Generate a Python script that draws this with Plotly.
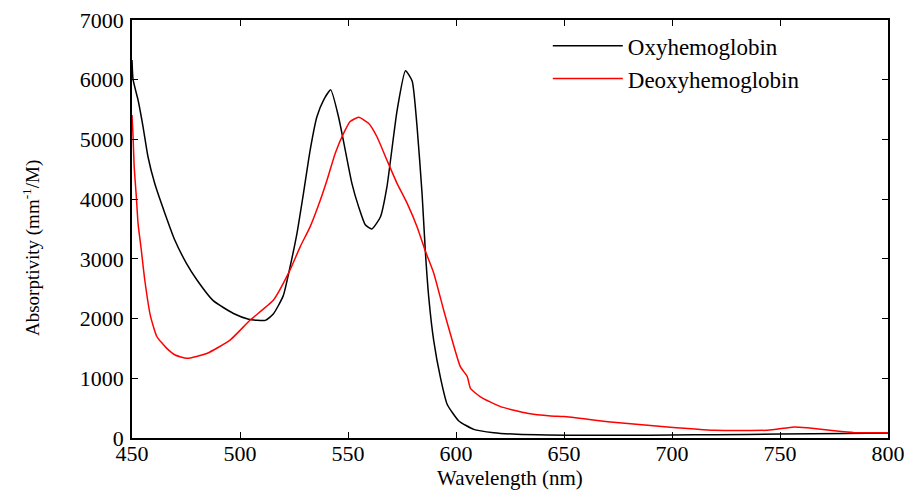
import plotly.graph_objects as go

# Oxyhemoglobin
oxy_wl = [450, 450.5, 452.8, 455.1, 457.4, 460.5, 465.2, 469.8, 475.2, 480, 487.6, 497, 504, 511.7, 515.4,
          520, 523.2, 526.4, 529.4, 532.5, 535.6, 538.7, 542, 545.6, 548.7, 551.8, 554.9, 558, 561,
          565, 568, 572.7, 576.6, 579.7, 582, 584.3, 585.8, 587.4, 589.7, 592.8, 595.9, 601.3, 608.2,
          617.5, 628.3, 642.3, 660, 680, 700, 720, 750, 780, 800]
oxy_val = [6330, 6000, 5660, 5215, 4710, 4265, 3765, 3315, 2925, 2650, 2300, 2085, 1990, 1970, 2075,
           2380, 2870, 3430, 4100, 4825, 5380, 5660, 5830, 5380, 4825, 4265, 3875, 3570, 3500,
           3700, 4200, 5480, 6150, 5980, 5200, 4085, 3130, 2350, 1625, 1010, 565, 285, 145,
           89, 62, 50, 45, 45, 50, 55, 65, 75, 85]

# Deoxyhemoglobin
deoxy_wl = [450, 450.5, 451, 452, 452.8, 454.3, 455.9, 458.5, 461.5, 466, 470, 475.4, 484.6, 495.4, 504.7,
            515.5, 522.8, 527.9, 532.5, 537.2, 540.3, 544.1, 548, 551, 554.9, 559.5, 563.4, 568, 572.7,
            577.4, 582, 585.8, 589.7, 594.3, 598.2, 602, 605.2, 606.7, 611.3, 620.6, 633, 643.8, 650,
            671.6, 697.9, 719.5, 744.2, 756.6, 762.7, 775.1, 784.4, 800]
deoxy_val = [5410, 5045, 4545, 4040, 3595, 3150, 2650, 2050, 1700, 1505, 1390, 1335, 1415, 1640, 1975,
             2310, 2785, 3205, 3540, 3985, 4320, 4770, 5105, 5300, 5370, 5270, 5045, 4655, 4265,
             3930, 3535, 3130, 2760, 2140, 1640, 1195, 1030, 830, 690, 525, 415, 370, 360,
             270, 185, 130, 130, 185, 170, 120, 90, 90]

x_ticks = [450, 500, 550, 600, 650, 700, 750, 800]
y_ticks = [0, 1000, 2000, 3000, 4000, 5000, 6000, 7000]

FONT = "Liberation Serif"

fig = go.Figure()
fig.add_trace(go.Scatter(x=oxy_wl, y=oxy_val, mode="lines", name="Oxyhemoglobin",
                         line=dict(color="black", width=1.5, shape="spline", smoothing=0.5)))
fig.add_trace(go.Scatter(x=deoxy_wl, y=deoxy_val, mode="lines", name="Deoxyhemoglobin",
                         line=dict(color="#ff0000", width=1.5, shape="spline", smoothing=0.5)))

axis_common = dict(showline=True, linecolor="black", linewidth=1.5, mirror="ticks",
                   ticks="inside", ticklen=6, tickcolor="black", tickwidth=1.2,
                   showgrid=False, zeroline=False, automargin=False,
                   ticklabeloverflow="allow",
                   tickfont=dict(family=FONT, size=22, color="black"))

# the page body adds an 8px offset, so the figure is 8px smaller
fig.update_layout(
    width=907, height=483,
    margin=dict(l=124, r=27, t=12, b=53),
    paper_bgcolor="white", plot_bgcolor="white",
    font=dict(family=FONT, color="black"),
    xaxis=dict(range=[450, 800], tickvals=x_ticks, ticklabelstandoff=-5, **axis_common),
    yaxis=dict(range=[0, 7000], tickvals=y_ticks, ticklabelstandoff=2, **axis_common),
    legend=dict(x=0.55, y=0.99, xanchor="left", yanchor="top", bgcolor="rgba(0,0,0,0)",
                itemwidth=70, tracegroupgap=0,
                font=dict(family=FONT, size=23, color="black")),
    showlegend=True,
    annotations=[
        dict(text="Wavelength (nm)", xref="paper", yref="paper", x=0.5, y=-0.0957,
             xanchor="center", yanchor="middle", showarrow=False,
             font=dict(family=FONT, size=21, color="black")),
        dict(text="Absorptivity (mm<sup>-1</sup>/M)", xref="paper", yref="paper", x=-0.132, y=0.455,
             xanchor="center", yanchor="middle", textangle=-90, showarrow=False,
             font=dict(family=FONT, size=19, color="black")),
    ],
)

fig.write_html("out.html")
